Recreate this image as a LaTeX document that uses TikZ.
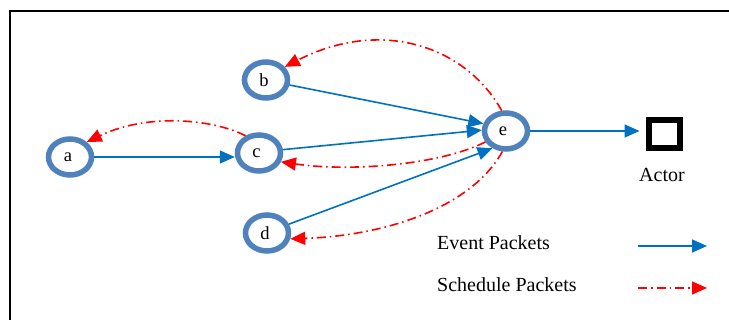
\documentclass[tikz,border=0pt]{standalone}
\usepackage{fontspec}
\setmainfont{Liberation Serif}
\usetikzlibrary{shapes.geometric,arrows.meta}
\definecolor{ringblue}{RGB}{79,129,189}
\definecolor{evblue}{RGB}{0,112,192}
\tikzset{
  proc/.style={ellipse, draw=ringblue, line width=5.5pt, fill=white,
    minimum width=43pt, minimum height=36pt, inner sep=0pt,
    font=\fontsize{18.5}{21}\selectfont},
  evt/.style={draw=evblue, line width=1.6pt,
    -{Triangle[length=15pt,width=13pt]}},
  sched/.style={draw=red, line width=1.6pt,
    dash pattern=on 9pt off 4pt on 1.5pt off 4pt,
    -{Triangle[length=15pt,width=13pt]}},
  legtext/.style={anchor=west, font=\fontsize{20}{23}\selectfont, inner sep=0pt},
}
\begin{document}
\begin{tikzpicture}[x=1pt, y=-1pt]
  \useasboundingbox (0,0) rectangle (729,320);
  % outer frame (right and bottom sides fall outside the page)
  \draw[line width=2.5pt] (10,340) -- (10,11) -- (750,11);

  % processes
  \node[proc] (a) at (70,157) {\hspace*{-4pt}a};
  \node[proc] (b) at (266,80) {\hspace*{-4pt}b};
  \node[proc] (c) at (259,153) {\hspace*{-5pt}c};
  \node[proc] (d) at (267,233) {\hspace*{-4pt}d};
  \node[proc] (e) at (506,131) {\hspace*{-6pt}e};

  % actor
  \node[draw=black, line width=6pt, minimum width=31pt, minimum height=28pt,
        inner sep=0pt] (actor) at (664,134) {};
  \node[font=\fontsize{20}{23}\selectfont, inner sep=0pt] (actorlbl) at (662,175) {Actor};

  % event packets
  \draw[evt] (a.east) -- (c.west |- a.east);
  \draw[evt] (b.-12) -- (e.162);
  \draw[evt] (c.8) -- (e.178);
  \draw[evt] (d.22) -- (e.-128);
  \draw[evt, shorten >=6pt] (e.east) -- (actor.west |- e.east);

  % schedule packets
  \draw[sched] (e.102) .. controls (465,45) and (380,18) .. (b.35);
  \draw[sched] (c.128) .. controls (215,120) and (150,112) .. (a.42);
  \draw[sched] (e.-152) .. controls (440,165) and (350,172) .. (c.-22);
  \draw[sched] (e.-100) .. controls (470,210) and (380,236) .. (d.-14);

  % legend
  \node[legtext] (evlbl) at (437,243) {Event Packets};
  \node[legtext] (schlbl) at (437,285) {Schedule Packets};
  \coordinate (ev1) at (638,246);
  \coordinate (ev2) at (707,246);
  \coordinate (sc1) at (638,288);
  \coordinate (sc2) at (707,288);
  \draw[evt] (ev1) -- (ev2);
  \draw[sched] (sc1) -- (sc2);
\end{tikzpicture}
\end{document}
